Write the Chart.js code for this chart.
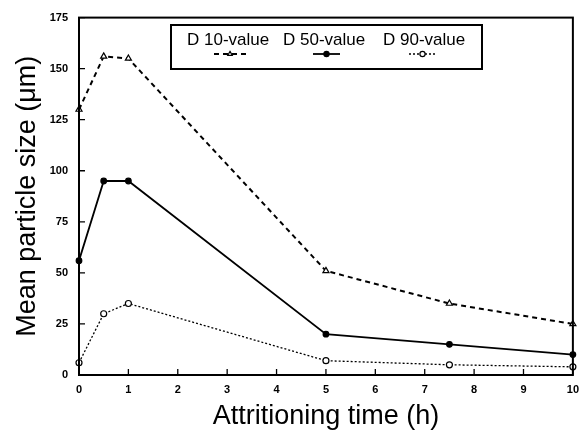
<!DOCTYPE html>
<html>
<head>
<meta charset="utf-8">
<script src="https://cdn.jsdelivr.net/npm/chart.js@4"></script>
<style>
  html, body { margin: 0; padding: 0; background: #fff; }
  #wrap { width: 587px; height: 436px; }
</style>
</head>
<body>
<div id="wrap"><canvas id="chart"></canvas></div>
<script>
// attritioning time (h)
const hours = [0, 0.5, 1, 5, 7.5, 10];
// mean particle size (um)
const d10 = [130, 156, 155, 51, 35, 25];
const d50 = [56, 95, 95, 20, 15, 10];
const d90 = [6, 30, 35, 7, 5, 4];
const seriesNames = ['D 10-value', 'D 50-value', 'D 90-value'];
const yTicks = [0, 25, 50, 75, 100, 125, 150, 175];
const xTicks = [0, 1, 2, 3, 4, 5, 6, 7, 8, 9, 10];

const pts = arr => hours.map((h, i) => ({ x: h, y: arr[i] }));
const FONT = '"Liberation Sans", Arial, Helvetica, sans-serif';

// frame, inward ticks and the boxed legend inside the plot
const framePlugin = {
    id: 'frame',
    afterDraw(chart) {
        const { ctx, chartArea: a, scales: { x, y } } = chart;
        ctx.save();
        ctx.strokeStyle = '#000';
        ctx.lineWidth = 2;
        ctx.strokeRect(a.left, a.top, a.right - a.left, a.bottom - a.top);
        ctx.lineWidth = 1.3;
        ctx.beginPath();
        xTicks.forEach(v => {
            const px = x.getPixelForValue(v);
            ctx.moveTo(px, a.bottom); ctx.lineTo(px, a.bottom - 6);
        });
        yTicks.forEach(v => {
            const py = y.getPixelForValue(v);
            ctx.moveTo(a.left, py); ctx.lineTo(a.left + 6, py);
        });
        ctx.stroke();

        // legend box
        ctx.lineWidth = 2;
        ctx.strokeRect(171, 25, 311, 44);
        ctx.font = '17px ' + FONT;
        ctx.textBaseline = 'middle';
        const tx = [187, 283, 383];
        const samples = [[214, 246], [313, 340], [409, 436]];
        chart.data.datasets.forEach((ds, i) => {
            ctx.fillStyle = '#000';
            ctx.fillText(seriesNames[i], tx[i], 40);
            const [s0, s1] = samples[i];
            ctx.save();
            ctx.lineWidth = ds.borderWidth;
            ctx.setLineDash(ds.borderDash || []);
            ctx.beginPath(); ctx.moveTo(s0, 54); ctx.lineTo(s1, 54); ctx.stroke();
            ctx.restore();
            ctx.fillStyle = ds.pointBackgroundColor;
            ctx.strokeStyle = '#000';
            ctx.lineWidth = 1.2;
            Chart.helpers.drawPoint(ctx, {
                pointStyle: ds.pointStyle, radius: 2.6, rotation: 0, borderWidth: 1.2
            }, (s0 + s1) / 2, 54);
        });
        ctx.restore();
    }
};

new Chart(document.getElementById('chart'), {
    type: 'line',
    data: {
        datasets: [
            { label: seriesNames[0], data: pts(d10), borderColor: '#000', borderWidth: 2, borderDash: [5, 4],
              pointStyle: 'triangle', pointRadius: 3.5, pointBorderWidth: 1.2, pointBackgroundColor: '#fff', pointBorderColor: '#000' },
            { label: seriesNames[1], data: pts(d50), borderColor: '#000', borderWidth: 1.8,
              pointStyle: 'circle', pointRadius: 2.8, pointBorderWidth: 1.2, pointBackgroundColor: '#000', pointBorderColor: '#000' },
            { label: seriesNames[2], data: pts(d90), borderColor: '#000', borderWidth: 1.3, borderDash: [2, 2],
              pointStyle: 'circle', pointRadius: 3, pointBorderWidth: 1.2, pointBackgroundColor: '#fff', pointBorderColor: '#000' }
        ]
    },
    options: {
        responsive: true,
        maintainAspectRatio: false,
        animation: false,
        clip: false,
        layout: { padding: { left: 0, right: 7, top: 14, bottom: 0 } },
        plugins: { legend: { display: false }, tooltip: { enabled: false } },
        scales: {
            x: {
                type: 'linear', min: 0, max: 10,
                afterFit: s => { s.height = 61; },
                afterBuildTicks: s => { s.ticks = xTicks.map(v => ({ value: v })); },
                grid: { display: false, drawTicks: false },
                border: { display: false },
                ticks: { color: '#000', padding: 8, font: { family: FONT, size: 11, weight: 'bold' } },
                title: { display: true, text: 'Attritioning time (h)', color: '#000',
                         font: { family: FONT, size: 27 }, padding: { top: 0, bottom: 3 } }
            },
            y: {
                min: 0, max: 175,
                afterFit: s => { s.width = 79; },
                afterBuildTicks: s => { s.ticks = yTicks.map(v => ({ value: v })); },
                grid: { display: false, drawTicks: false },
                border: { display: false },
                ticks: { color: '#000', padding: 11, font: { family: FONT, size: 11, weight: 'bold' } },
                title: { display: true, text: 'Mean particle size (μm)', color: '#000',
                         font: { family: FONT, size: 27 }, padding: { top: 11, bottom: 0 } }
            }
        }
    },
    plugins: [framePlugin]
});
</script>
</body>
</html>
